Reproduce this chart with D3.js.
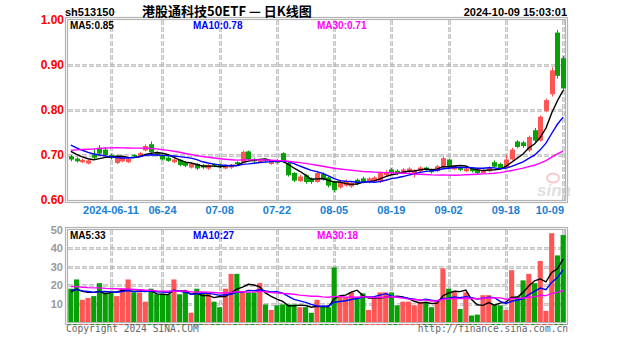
<!DOCTYPE html>
<html><head><meta charset="utf-8">
<script src="https://cdn.jsdelivr.net/npm/d3@7"></script>
<style>body{margin:0;background:#fff}svg{display:block}</style>
</head><body><svg id="c" width="627" height="342"></svg>
<script>
const dates = ["05-30","05-31","06-03","06-04","06-05","06-06","06-07","06-11","06-12","06-13","06-14","06-17","06-18","06-19","06-20","06-21","06-24","06-25","06-26","06-27","06-28","07-01","07-02","07-03","07-04","07-05","07-08","07-09","07-10","07-11","07-12","07-15","07-16","07-17","07-18","07-19","07-22","07-23","07-24","07-25","07-26","07-29","07-30","07-31","08-01","08-02","08-05","08-06","08-07","08-08","08-09","08-12","08-13","08-14","08-15","08-16","08-19","08-20","08-21","08-22","08-23","08-26","08-27","08-28","08-29","08-30","09-02","09-03","09-04","09-05","09-06","09-09","09-10","09-11","09-12","09-13","09-18","09-19","09-20","09-23","09-24","09-25","09-26","09-27","09-30","10-08","10-09"];
const opens = [0.697,0.692,0.684,0.681,0.700,0.716,0.712,0.700,0.682,0.686,0.684,0.700,0.697,0.710,0.724,0.704,0.698,0.694,0.684,0.689,0.684,0.672,0.680,0.678,0.670,0.680,0.678,0.670,0.672,0.684,0.684,0.708,0.690,0.684,0.690,0.680,0.688,0.704,0.682,0.660,0.642,0.655,0.648,0.640,0.658,0.650,0.640,0.628,0.632,0.630,0.645,0.648,0.640,0.642,0.640,0.655,0.668,0.665,0.660,0.662,0.660,0.664,0.672,0.668,0.664,0.672,0.690,0.668,0.672,0.664,0.670,0.667,0.660,0.664,0.684,0.680,0.672,0.690,0.730,0.728,0.710,0.755,0.732,0.798,0.835,0.972,0.915];
const highs = [0.700,0.695,0.692,0.690,0.712,0.722,0.716,0.703,0.700,0.697,0.694,0.702,0.707,0.724,0.730,0.708,0.702,0.697,0.693,0.691,0.687,0.683,0.682,0.680,0.680,0.682,0.681,0.679,0.680,0.686,0.710,0.710,0.693,0.691,0.692,0.689,0.691,0.706,0.684,0.662,0.656,0.657,0.650,0.663,0.661,0.652,0.643,0.645,0.646,0.641,0.648,0.652,0.651,0.653,0.663,0.666,0.671,0.668,0.671,0.673,0.668,0.675,0.674,0.670,0.678,0.696,0.692,0.678,0.674,0.673,0.672,0.669,0.668,0.675,0.688,0.683,0.700,0.716,0.733,0.731,0.743,0.760,0.788,0.826,0.895,0.978,0.920];
const lows = [0.686,0.683,0.682,0.679,0.690,0.700,0.697,0.690,0.680,0.684,0.682,0.694,0.695,0.708,0.703,0.697,0.688,0.685,0.682,0.675,0.673,0.670,0.667,0.669,0.667,0.673,0.671,0.668,0.669,0.677,0.683,0.688,0.683,0.682,0.683,0.678,0.681,0.684,0.652,0.640,0.640,0.636,0.636,0.638,0.643,0.628,0.618,0.625,0.630,0.627,0.633,0.637,0.637,0.640,0.638,0.652,0.657,0.656,0.657,0.659,0.650,0.661,0.665,0.659,0.662,0.670,0.670,0.666,0.664,0.662,0.661,0.657,0.658,0.662,0.672,0.668,0.670,0.688,0.715,0.716,0.707,0.728,0.730,0.795,0.830,0.870,0.842];
const closes = [0.690,0.686,0.689,0.688,0.694,0.703,0.700,0.693,0.696,0.694,0.691,0.697,0.704,0.720,0.706,0.700,0.690,0.687,0.690,0.678,0.676,0.680,0.670,0.672,0.678,0.676,0.674,0.677,0.678,0.680,0.707,0.690,0.686,0.688,0.686,0.686,0.683,0.686,0.655,0.643,0.652,0.640,0.640,0.660,0.646,0.632,0.622,0.640,0.642,0.638,0.636,0.640,0.648,0.650,0.660,0.662,0.660,0.659,0.668,0.670,0.666,0.672,0.668,0.662,0.675,0.693,0.672,0.676,0.667,0.670,0.664,0.660,0.666,0.672,0.674,0.671,0.690,0.712,0.718,0.720,0.740,0.732,0.785,0.822,0.888,0.876,0.848];
const volumes = [18,23,12,13,14,21,16,16,14,18,23,16,16,11,18,15,15,15,23,15,17,5,18,16,16,11,8,18,26,26,16,16,16,21,9.5,6.5,9,9.5,9.5,9.5,8,8,5,12,8,8,29.5,13.5,13.5,16,13.5,15.5,6.5,13,16,16,16,9,11,11,9,11,11,8,12,29,18,16,7,16,3.5,4,14.5,14.5,9,9,6.5,28,14,22.5,26,21,33,6,48,36,47];
const priorCloses = [0.66,0.665,0.67,0.675,0.665,0.675,0.68,0.69,0.70,0.70,0.705,0.71,0.72,0.725,0.73,0.735,0.74,0.745,0.75,0.755,0.75,0.74,0.735,0.73,0.725,0.72,0.715,0.71,0.705];
const priorVolumes = [22,25,20,18,21,24,19,17,23,22,22,22,20,18,24,19,16,21,17,15,18,20,16,19,17,15,18,16,14];
const priceTicks = [0.60,0.70,0.80,0.90,1.00];
const volTicks = [10,20,30,40,50];
const dateTicks = ["06-11","06-24","07-08","07-22","08-05","08-19","09-02","09-18","10-09"];
const dateTickLabels = ["2024-06-11","06-24","07-08","07-22","08-05","08-19","09-02","09-18","10-09"];
const priceMaLabels = ["MA5:0.85","MA10:0.78","MA30:0.71"];
const volMaLabels = ["MA5:33","MA10:27","MA30:18"];
const maPeriods = [5,10,30];
const maColors = ["#000000","#0000ff","#ff00ff"];

const svg = d3.select("#c");
const L = 68, R = 566;
const x = d3.scaleBand().domain(dates).range([L, R]).padding(0);
const bw = x.bandwidth();
const cx = d => x(d) + bw/2;
const y = d3.scaleLinear().domain([0.6, 1.0]).range([200, 20]);
const yv = d3.scaleLinear().domain([0, 50]).range([322, 229.5]);

const RED = "#ff5555", GREEN = "#07a007", GRID = "#b4b4b4";
const FONT = "'Liberation Sans', Arial, sans-serif";
const MONO = "'DejaVu Sans Mono', 'Liberation Mono', monospace";

function dbl(g, x1, y1, x2, y2, dash, vertical) {
  const off = 1.5;
  [-off/2, off/2].forEach(o => {
    g.append("line")
      .attr("x1", vertical ? x1 + o : x1).attr("x2", vertical ? x2 + o : x2)
      .attr("y1", vertical ? y1 : y1 + o).attr("y2", vertical ? y2 : y2 + o)
      .attr("stroke", GRID).attr("stroke-width", 1)
      .attr("stroke-dasharray", dash || null);
  });
}

function panel(top, bottom, ticks, scale) {
  const g = svg.append("g");
  g.append("rect").attr("x", 65.5).attr("y", top - 2.5).attr("width", 502).attr("height", bottom - top + 5)
    .attr("fill", "none").attr("stroke", GRID).attr("stroke-width", 1.2);
  g.append("rect").attr("x", 67.5).attr("y", top - 0.5).attr("width", 498).attr("height", bottom - top + 1)
    .attr("fill", "none").attr("stroke", GRID).attr("stroke-width", 1.2);
  ticks.forEach(t => {
    const yy = Math.round(scale(t)) + 0.5;
    if (yy > top + 3 && yy < bottom - 3) dbl(g, 68, yy, 566, yy, "5,2", false);
  });
  dateTicks.forEach(d => {
    const xx = Math.round(cx(d)) + 0.5;
    dbl(g, xx, top, xx, bottom, "5,2", true);
  });
  return g;
}

panel(20, 200, priceTicks, y);
panel(230, 322, volTicks, yv);

// sina watermark
const wm = svg.append("g").attr("opacity", 0.55);
wm.append("ellipse").attr("cx", 553).attr("cy", 178).attr("rx", 6).attr("ry", 4.5)
  .attr("fill", "none").attr("stroke", "#f2a0a0").attr("stroke-width", 2);
wm.append("text").attr("x", 537).attr("y", 196).attr("font-family", FONT).attr("font-size", 17)
  .attr("font-weight", "bold").attr("font-style", "italic").attr("fill", "#c8c8c8").text("sina");

// Candles
const cg = svg.append("g");
dates.forEach((d, i) => {
  const o = opens[i], c = closes[i], h = highs[i], l = lows[i];
  const col = c >= o ? RED : GREEN;
  const xc = Math.round(cx(d)) + 0.5;
  cg.append("line").attr("x1", xc).attr("x2", xc).attr("y1", y(h)).attr("y2", y(l))
    .attr("stroke", col).attr("stroke-width", 1);
  const top = y(Math.max(o, c)), bot = y(Math.min(o, c));
  cg.append("rect").attr("x", xc - 2.5).attr("width", 5)
    .attr("y", top).attr("height", Math.max(1, bot - top)).attr("fill", col);
});

// Volume bars
const vg = svg.append("g");
dates.forEach((d, i) => {
  const col = closes[i] >= opens[i] ? RED : GREEN;
  vg.append("rect").attr("x", x(d) + 0.3).attr("width", bw - 0.6)
    .attr("y", yv(volumes[i])).attr("height", yv(0) - yv(volumes[i])).attr("fill", col);
  vg.append("line").attr("x1", x(d)).attr("x2", x(d) + bw).attr("y1", 324.5).attr("y2", 324.5)
    .attr("stroke", col).attr("stroke-width", 1).attr("stroke-dasharray", "3,2");
});

// Moving averages
function ma(prior, vals, n) {
  const full = prior.concat(vals);
  return vals.map((v, i) => {
    const end = i + prior.length;
    return d3.mean(full.slice(end - n + 1, end + 1));
  });
}
maPeriods.forEach((n, k) => {
  const pm = ma(priorCloses, closes, n);
  svg.append("path").datum(pm)
    .attr("d", d3.line().x((v, i) => cx(dates[i])).y(v => y(v)))
    .attr("fill", "none").attr("stroke", maColors[k]).attr("stroke-width", 1.4);
  const vm = ma(priorVolumes, volumes, n);
  svg.append("path").datum(vm)
    .attr("d", d3.line().x((v, i) => cx(dates[i])).y(v => yv(v)))
    .attr("fill", "none").attr("stroke", maColors[k]).attr("stroke-width", 1.4);
});

// Texts
function txt(xp, yp, s, o) {
  const t = svg.append("text").attr("x", xp).attr("y", yp).text(s)
    .attr("font-family", o.family || FONT).attr("font-size", o.size || 11)
    .attr("font-weight", o.weight || "bold").attr("fill", o.fill || "#000")
    .attr("text-anchor", o.anchor || "start");
  if (o.base) t.attr("dominant-baseline", o.base);
  return t;
}
txt(65, 16, "sh513150", {size: 11});
txt(142, 16, "港股通科技50ETF — 日K线图", {size: 13, family: "'Noto Sans CJK SC', sans-serif"});
txt(567, 16, "2024-10-09 15:03:01", {size: 11, anchor: "end"});

const maX = [70, 193, 317];
priceMaLabels.forEach((s, k) => txt(maX[k], 29, s, {size: 10, fill: maColors[k]}));
volMaLabels.forEach((s, k) => txt(maX[k], 239, s, {size: 10, fill: maColors[k]}));

priceTicks.forEach(t => txt(64, y(t), t.toFixed(2), {size: 12, fill: "#ff0000", anchor: "end", base: "central"}));
volTicks.forEach(t => txt(63, yv(t), String(t), {size: 11, fill: "#999999", anchor: "end", base: "central"}));

dateTicks.forEach((d, k) => {
  const t = txt(cx(d), 214, dateTickLabels[k], {size: 11, fill: "#1a7fd6", anchor: "middle"});
  const w = t.node().getComputedTextLength();
  if (cx(d) + w/2 > 565) t.attr("x", 564).attr("text-anchor", "end");
});

txt(66, 332, "Copyright 2024 SINA.COM", {size: 9.6, fill: "#666", weight: "normal", family: MONO});
txt(568, 332, "http://finance.sina.com.cn", {size: 9.6, fill: "#666", weight: "normal", anchor: "end", family: MONO});
</script></body></html>
